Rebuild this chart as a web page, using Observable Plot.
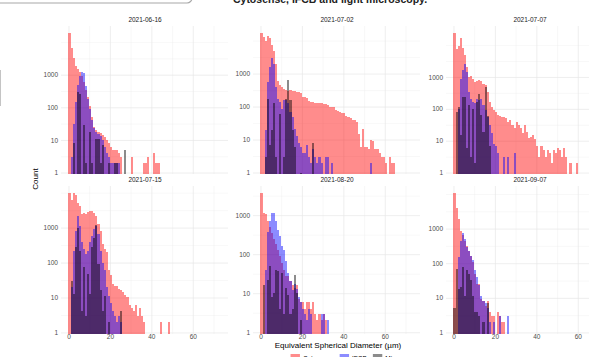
<!DOCTYPE html>
<html><head><meta charset="utf-8">
<script src="https://cdn.jsdelivr.net/npm/d3@7"></script>
<script src="https://cdn.jsdelivr.net/npm/@observablehq/plot@0.6"></script>
<style>
html,body{margin:0;padding:0;background:#fff;}
#chart{position:relative;width:589px;height:357px;overflow:hidden;background:#fff;font-family:"Liberation Sans",Arial,sans-serif;}
#chart svg{position:absolute;overflow:visible;}
</style></head><body><div id="chart"></div>
<script>
// ---------- data ----------
const panelDates = ["2021-06-16","2021-07-02","2021-07-07","2021-07-15","2021-08-20","2021-09-07"];
const methods = ["Cytosense","IFCB","Microscopy"];
const methodColors = ["#ff0000","#0000ff","#000000"];
const binWidth = 1; // µm, bins start at 0
const xTicks = [0,20,40,60];
const xMinorTicks = [10,30,50,70];
const yTicks = [1,10,100,1000];
const yMinorTicks = [3.1623,31.623,316.23,3162.3,10000];

const cytosense_0616 = [19000,6500,3200,1800,1500,1200,900,600,350,200,110,50,25,20,18,16,14,12,10,8,6,5,5,5,4,3,0,0,0,0,3,0,0,0,0,0,2,2,3,0,0,4,2,2];
const ifcb_0616 = [0,3,30,150,500,900,1200,1100,450,180,90,40,23,18,15,13,10,6,4,3,2,2,2,2,2];
const microscopy_0616 = [0,0,8,0,300,250,0,29,2,0,18,2,0,11,11,2,7,0,0,2,0,0,2,2,0,0,0,5];

const cytosense_0702 = [17000,13000,9700,14000,12000,7500,4700,2000,600,450,400,350,320,300,310,300,290,280,270,250,200,200,180,150,140,140,130,130,130,125,120,120,110,100,100,95,80,75,70,65,65,50,48,45,40,38,35,15,6,21,6,6,5,10,9,5,5,4,3,3,2,0,3,2,2];
const ifcb_0702 = [0,0,20,570,1600,3000,2000,400,175,140,87,160,160,125,68,48,21,13,8,6,4,4,7,3,2,5,3,2,3,2,0,3,3,0,2,0,0,0,0,0,0,0,0,0,0,0,0,0,0,0,0,0,0,2];
const microscopy_0702 = [0,0,3,175,7,20,125,3,0,60,0,3,175,640,155,19,6,0,0,1,0,0,0,0,0,8];

const cytosense_0707 = [24000,7400,9300,17000,8300,5000,2000,980,1100,870,690,770,820,770,600,540,335,165,115,90,80,63,60,55,56,50,40,44,31,25,40,31,25,17,31,19,12,13,15,11,7,3,7,5,3,5,4,2,5,4,6,5,3,6,3,0,2,0,0,2];
const ifcb_0707 = [0,0,100,870,1600,2500,1400,330,210,165,150,210,185,210,130,90,56,31,17,8,7,4,0,0,3,0,3,0,0,4];
const microscopy_0707 = [0,80,115,15,235,235,6,130,3,100,2,165,300,63,19,500,60,7];

const cytosense_0715 = [9800,6300,9800,8800,5100,4100,2400,2700,2400,2850,3000,3000,2700,2100,1230,800,340,240,200,60,45,25,22,22,18,16,14,12,10,6,5,4,6,3,5,3,2,0,0,0,0,0,0,0,2,0,0,0,2];
const ifcb_0715 = [0,20,220,800,2100,1100,375,240,175,220,375,580,900,1100,650,220,100,60,20,11,7,4,3,2,3,2];
const microscopy_0715 = [0,30,13,270,1000,220,4,73,3,47,13,270,520,1200,90,16,4,11,0,2,0,0,0,0,0,4];

const cytosense_0820 = [3700,1150,1050,690,500,350,250,180,130,90,60,40,27,27,20,16,14,16,7,6,6,4,6,6,4,6,3,2,3,2,3,2];
const ifcb_0820 = [0,0,40,370,690,1150,1150,690,410,300,160,130,68,33,20,12,17,13,8,6,4,3,2,4,3,0,0,0,0,3,3,0,2];
const microscopy_0820 = [0,16,0,22,50,8,10,40,36,4,33,3,14,9,3,4,30,10,0,2];

const cytosense_0907 = [10700,4000,1850,860,650,450,320,230,160,110,50,25,25,9,8,6,8,4,3,3,0,4,3,2,2];
const ifcb_0907 = [0,0,150,440,770,500,285,230,165,120,62,40,23,11,8,7,5,2,0,2,0,0,3,0,0,0,3];
const microscopy_0907 = [5,69,18,21,76,11,62,50,32,11,4,4,3,0,2,0,7];

const panelSeries = [
  [cytosense_0616, ifcb_0616, microscopy_0616],
  [cytosense_0702, ifcb_0702, microscopy_0702],
  [cytosense_0707, ifcb_0707, microscopy_0707],
  [cytosense_0715, ifcb_0715, microscopy_0715],
  [cytosense_0820, ifcb_0820, microscopy_0820],
  [cytosense_0907, ifcb_0907, microscopy_0907]
];

// ---------- layout ----------
const FONT = "Liberation Sans, Arial, sans-serif";
const colLeft = [61, 253, 446];
const rowTop = [25.5, 185.5];
const PW = 167, PH = 148;
const mL = 30, mR = 2, mT = 14, mB = 12;
const xDomain = [-3.6, 77];
const alpha = 0.45;
const chart = document.getElementById("chart");

panelSeries.forEach((series, i) => {
  const row = Math.floor(i / 3), col = i % 3;
  const rows = methods.flatMap((m, k) =>
    series[k].map((c, b) => ({method: m, x1: b * binWidth, x2: (b + 1) * binWidth, count: c}))
      .filter(d => d.count > 0));
  const L = Math.log10(d3.max(rows, d => d.count));
  const lo = Math.pow(10, -0.045);
  const hi = Math.pow(10, 1.05 * L);
  const marks = [
    Plot.gridX(xMinorTicks, {stroke: "#ededed", strokeOpacity: 1, strokeWidth: 0.4}),
    Plot.gridY(yMinorTicks.filter(v => v > lo && v < hi), {stroke: "#ededed", strokeOpacity: 1, strokeWidth: 0.4}),
    Plot.gridX(xTicks, {stroke: "#e6e6e6", strokeOpacity: 1, strokeWidth: 0.7}),
    Plot.gridY(yTicks, {stroke: "#e6e6e6", strokeOpacity: 1, strokeWidth: 0.7}),
    Plot.rect(rows, {x1: "x1", x2: "x2", y1: lo, y2: "count", fill: "method", fillOpacity: alpha, shapeRendering: "crispEdges"}),
    Plot.axisY(yTicks, {anchor: "left", tickSize: 0, tickPadding: 3.5, fontSize: 6.5, color: "#4d4d4d", label: null, tickFormat: d => String(d)}),
    Plot.text([panelDates[i]], {frameAnchor: "top", dy: -6.5, lineAnchor: "middle", fontSize: 6.5, fill: "#1a1a1a", text: d => d})
  ];
  if (row === 1) marks.push(Plot.axisX(xTicks, {anchor: "bottom", tickSize: 0, tickPadding: 0, fontSize: 6.5, color: "#4d4d4d", label: null}));
  const p = Plot.plot({
    width: mL + PW + mR, height: mT + PH + mB,
    marginLeft: mL, marginRight: mR, marginTop: mT, marginBottom: mB,
    x: {domain: xDomain, axis: null},
    y: {type: "log", domain: [lo, hi], axis: null},
    color: {domain: methods, range: methodColors},
    style: {fontFamily: FONT, fontSize: "6.5px", background: "transparent", overflow: "visible"},
    marks
  });
  p.style.left = (colLeft[col] - mL) + "px";
  p.style.top = (rowTop[row] - mT) + "px";
  chart.appendChild(p);
});

// ---------- overlay: titles, legend ----------
const ov = d3.select(chart).append("svg")
  .attr("width", 589).attr("height", 357)
  .style("left", "0px").style("top", "0px")
  .attr("font-family", FONT);

// screenshot artifacts at the edges
ov.append("rect").attr("x", -10).attr("y", -20).attr("width", 202).attr("height", 23).attr("rx", 5)
  .attr("fill", "#fff").attr("stroke", "#a8a8a8").attr("stroke-width", 1.2);
ov.append("line").attr("x1", 0.5).attr("x2", 0.5).attr("y1", 70).attr("y2", 106)
  .attr("stroke", "#c4c4c4").attr("stroke-width", 1);

ov.append("text").attr("x", 330).attr("y", 2.6).attr("text-anchor", "middle")
  .attr("font-size", 10.5).attr("font-weight", "bold").attr("fill", "#222")
  .text("Cytosense, IFCB and light microscopy.");

ov.append("text").attr("transform", "translate(37.5,179) rotate(-90)").attr("text-anchor", "middle")
  .attr("font-size", 8).attr("fill", "#000").text("Count");

ov.append("text").attr("x", 338).attr("y", 348.3).attr("text-anchor", "middle")
  .attr("font-size", 8).attr("fill", "#000").text("Equivalent Spherical Diameter (µm)");

// legend
const lg = ov.append("g");
const keyS = 9.4, cy = 358.7;
let xx = 0;
const t0 = lg.append("text").attr("x", xx).attr("y", cy).attr("dy", "0.35em").attr("font-size", 8).text("Method");
xx += t0.node().getComputedTextLength() + 6;
methods.forEach((m, k) => {
  lg.append("rect").attr("x", xx).attr("y", cy - keyS / 2).attr("width", keyS).attr("height", keyS)
    .attr("fill", methodColors[k]).attr("fill-opacity", alpha);
  xx += keyS + 3;
  const t = lg.append("text").attr("x", xx).attr("y", cy).attr("dy", "0.35em").attr("font-size", 6.5).attr("fill", "#000").text(m);
  xx += t.node().getComputedTextLength() + 6;
});
lg.attr("transform", `translate(${338 - (xx - 6) / 2},0)`);
</script></body></html>
